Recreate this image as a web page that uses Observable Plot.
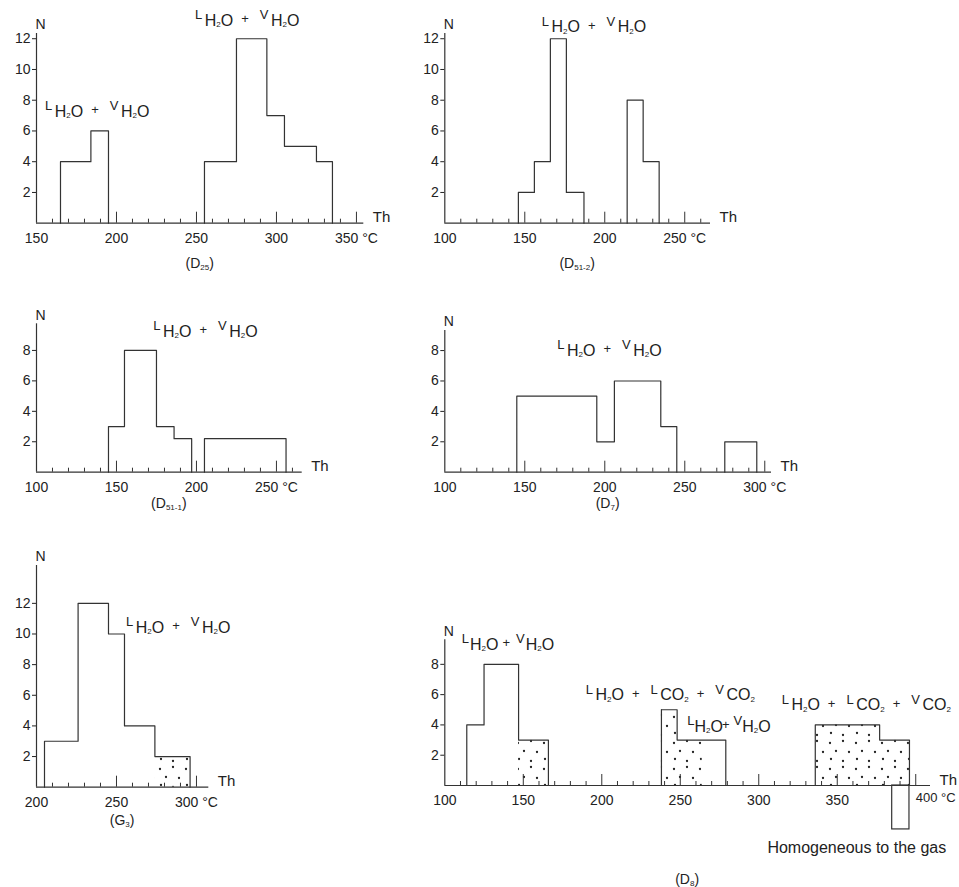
<!DOCTYPE html>
<html>
<head>
<meta charset="utf-8">
<script src="https://cdn.jsdelivr.net/npm/d3@7"></script>
<script src="https://cdn.jsdelivr.net/npm/@observablehq/plot@0.6"></script>
<style>
  body { margin: 0; background: #fff; }
  #chart { position: relative; width: 959px; height: 887px; overflow: hidden; background: #fff; }
</style>
</head>
<body>
<svg width="0" height="0" style="position:absolute">
  <defs>
    <pattern id="stipple" patternUnits="userSpaceOnUse" width="26" height="26">
      <circle cx="4" cy="5" r="1.15" fill="#222"/>
      <circle cx="17" cy="3" r="1.15" fill="#222"/>
      <circle cx="10" cy="13" r="1.15" fill="#222"/>
      <circle cx="23" cy="14" r="1.15" fill="#222"/>
      <circle cx="5" cy="21" r="1.15" fill="#222"/>
      <circle cx="17" cy="23" r="1.15" fill="#222"/>
    </pattern>
  </defs>
</svg>
<div id="chart"></div>
<script>
const FONT = '"Liberation Sans", Arial, Helvetica, sans-serif';
const INK = "#333";

// ---------------- DATA ----------------
// (D25)
const d25Lo = [165, 184, 255, 275, 294, 305, 325];
const d25Hi = [184, 195, 275, 294, 305, 325, 335];
const d25N = [4, 6, 4, 12, 7, 5, 4];
const d25Type = ["aq", "aq", "aq", "aq", "aq", "aq", "aq"];
const d25XTicks = [150, 200, 250, 300, 350];
const d25YTicks = [2, 4, 6, 8, 10, 12];

// (D51-2)
const d512Lo = [146, 156, 166, 176, 214, 224];
const d512Hi = [156, 166, 176, 187, 224, 234];
const d512N = [2, 4, 12, 2, 8, 4];
const d512Type = ["aq", "aq", "aq", "aq", "aq", "aq"];
const d512XTicks = [100, 150, 200, 250];
const d512YTicks = [2, 4, 6, 8, 10, 12];

// (D51-1)
const d511Lo = [145, 155, 175, 186, 205];
const d511Hi = [155, 175, 186, 197, 256];
const d511N = [3, 8, 3, 2.2, 2.2];
const d511Type = ["aq", "aq", "aq", "aq", "aq"];
const d511XTicks = [100, 150, 200, 250];
const d511YTicks = [2, 4, 6, 8];

// (D7)
const d7Lo = [145, 195, 206, 235, 275];
const d7Hi = [195, 206, 235, 245, 295];
const d7N = [5, 2, 6, 3, 2];
const d7Type = ["aq", "aq", "aq", "aq", "aq"];
const d7XTicks = [100, 150, 200, 250, 300];
const d7YTicks = [2, 4, 6, 8];

// (G3)
const g3Lo = [205, 226, 245, 255, 274];
const g3Hi = [226, 245, 255, 274, 296];
const g3N = [3, 12, 10, 4, 2];
const g3Type = ["aq", "aq", "aq", "aq", "co2"];
const g3XTicks = [200, 250, 300];
const g3YTicks = [2, 4, 6, 8, 10, 12];

// (D8)
const d8Lo = [114, 125, 147, 238, 248, 264, 336, 377];
const d8Hi = [125, 147, 166, 248, 264, 279, 377, 396];
const d8N = [4, 8, 3, 5, 3, 3, 4, 3];
const d8Type = ["aq", "aq", "co2", "co2", "co2", "aq", "co2", "co2"];
const d8GasLo = [385];
const d8GasHi = [396];
const d8GasN = [-2.9];
const d8XTicks = [100, 150, 200, 250, 300, 350, 400];
const d8YTicks = [2, 4, 6, 8];

// phase labels (data coordinates)
const AQ = ["L:H2O", "+", "V:H2O"];
const CO2 = ["L:H2O", "+", "L:CO2", "+", "V:CO2"];
const d25Notes = [{x: 155.6, y: 6.9, f: AQ, sp: "normal"}, {x: 249.4, y: 12.8, f: AQ, sp: "normal"}];
const d512Notes = [{x: 160.9, y: 12.39, f: AQ, sp: "normal"}];
const d511Notes = [{x: 173.3, y: 8.87, f: AQ, sp: "normal"}];
const d7Notes = [{x: 170.6, y: 7.61, f: AQ, sp: "normal"}];
const g3Notes = [{x: 256.3, y: 10.05, f: AQ, sp: "normal"}];
const d8Notes = [
  {x: 111.1, y: 8.92, f: AQ, sp: "tight"},
  {x: 190.1, y: 5.61, f: CO2, sp: "normal"},
  {x: 254.8, y: 3.52, f: AQ, sp: "tighter"},
  {x: 314.9, y: 4.95, f: CO2, sp: "normal"}
];
const d8Extra = [{x: 305.5, y: -4.1, text: "Homogeneous to the gas"}];

// ---------------- HELPERS ----------------
const SPACING = {
  normal: {g0: 2.5, g1: 8, g2: 11},
  tight: {g0: 1, g1: 4, g2: 6},
  tighter: {g0: 0, g1: -1, g2: 4}
};

function chemSegs(tokens, spName) {
  const sp = SPACING[spName];
  const segs = [];
  tokens.forEach((tok, i) => {
    if (tok === "+") { segs.push({t: "+", size: 13, off: -2.5, dx: sp.g1}); return; }
    const [m, f] = tok.split(":");
    segs.push({t: m, size: 13, off: -6.5, dx: i === 0 ? 0 : sp.g2});
    [...f].forEach((c, j) => {
      const dig = /[0-9]/.test(c);
      segs.push({t: c, size: dig ? 8 : 16, off: dig ? 1.5 : 0, dx: j === 0 ? sp.g0 : 0});
    });
  });
  return segs;
}

function captionSegs(main, sub) {
  return [
    {t: "(" + main, size: 14, off: 0, dx: 0},
    {t: sub, size: 8, off: 2, dx: 0},
    {t: ")", size: 14, off: 0, dx: 0}
  ];
}

function drawRich(svg, px, py, segs, anchor) {
  const t = d3.select(svg).append("text")
    .attr("x", px).attr("y", py)
    .attr("text-anchor", anchor)
    .attr("fill", "#222")
    .attr("font-family", FONT);
  let cur = 0;
  for (const s of segs) {
    t.append("tspan")
      .attr("font-size", s.size)
      .attr("dy", s.off - cur)
      .attr("dx", s.dx || 0)
      .text(s.t);
    cur = s.off;
  }
}

function outlineOf(bins) {
  const pts = [];
  let g = 0;
  bins.forEach((b, i) => {
    const start = i === 0 || b.lo !== bins[i - 1].hi;
    if (start) {
      if (i > 0) pts.push({x: bins[i - 1].hi, y: 0, g});
      g++;
      pts.push({x: b.lo, y: 0, g});
    }
    pts.push({x: b.lo, y: b.n, g});
  });
  pts.push({x: bins[bins.length - 1].hi, y: 0, g});
  return pts;
}

function makeBins(lo, hi, n, type) {
  return lo.map((l, i) => ({lo: l, hi: hi[i], n: n[i], type: type ? type[i] : "aq"}));
}

// ---------------- PANELS ----------------
const panels = [
  {bins: makeBins(d25Lo, d25Hi, d25N, d25Type), xTicks: d25XTicks, yTicks: d25YTicks, notes: d25Notes,
   xDomain: [150, 354.6], yDomain: [0, 12.34], region: [0, 0, 410, 290],
   frame: {left: 36, right: 363.3, top: 33, bottom: 222.7}, cap: ["D", "25"], capDy: 44.8},
  {bins: makeBins(d512Lo, d512Hi, d512N, d512Type), xTicks: d512XTicks, yTicks: d512YTicks, notes: d512Notes,
   xDomain: [100, 266.1], yDomain: [0, 12.34], region: [410, 0, 549, 290],
   frame: {left: 444.3, right: 710, top: 33, bottom: 222.7}, cap: ["D", "51-2"], capDy: 44.8},
  {bins: makeBins(d511Lo, d511Hi, d511N, d511Type), xTicks: d511XTicks, yTicks: d511YTicks, notes: d511Notes,
   xDomain: [100, 266.1], yDomain: [0, 9.75], region: [0, 290, 410, 240],
   frame: {left: 36, right: 301.7, top: 323.3, bottom: 471.7}, cap: ["D", "51-1"], capDy: 35.8},
  {bins: makeBins(d7Lo, d7Hi, d7N, d7Type), xTicks: d7XTicks, yTicks: d7YTicks, notes: d7Notes,
   xDomain: [100, 304.2], yDomain: [0, 9.32], region: [410, 290, 549, 240],
   frame: {left: 444.3, right: 771, top: 330, bottom: 471.7}, cap: ["D", "7"], capDy: 35.8},
  {bins: makeBins(g3Lo, g3Hi, g3N, g3Type), xTicks: g3XTicks, yTicks: g3YTicks, notes: g3Notes,
   xDomain: [200, 307.7], yDomain: [0, 14.47], region: [0, 530, 410, 357],
   frame: {left: 36, right: 208.3, top: 565, bottom: 786.7}, cap: ["G", "3"], capDy: 38.2},
  {bins: makeBins(d8Lo, d8Hi, d8N, d8Type), xTicks: d8XTicks, yTicks: d8YTicks, notes: d8Notes,
   gas: makeBins(d8GasLo, d8GasHi, d8GasN), extra: d8Extra, lastLabelStart: true,
   xDomain: [100, 409.4], yDomain: [0, 9.62], region: [410, 530, 549, 357],
   frame: {left: 444.3, right: 930, top: 639.3, bottom: 785}, cap: ["D", "8"], capDy: 98.5}
];

const chart = document.getElementById("chart");
const unit = d => `${d} \u00b0C`;

for (const cfg of panels) {
  const [rx, ry, rw, rh] = cfg.region;
  const f = cfg.frame;
  const frameH = f.bottom - f.top;
  const x0 = cfg.xDomain[0];
  const lastTick = cfg.xTicks[cfg.xTicks.length - 1];
  const axisTicks = cfg.lastLabelStart ? cfg.xTicks.slice(0, -1) : cfg.xTicks;
  const grid = d3.range(x0 + 10, cfg.xDomain[1] + 1e-9, 10);
  const major = grid.filter(v => v % 50 === 0);
  const minor = grid.filter(v => v % 50 !== 0);

  const marks = [
    Plot.rect(cfg.bins.filter(b => b.type === "co2"), {x1: "lo", x2: "hi", y1: 0, y2: "n", fill: "url(#stipple)"}),
    cfg.gas ? Plot.rect(cfg.gas, {x1: "lo", x2: "hi", y1: 0, y2: "n", fill: "none", stroke: INK, strokeWidth: 1.2}) : null,
    Plot.line(outlineOf(cfg.bins), {x: "x", y: "y", z: "g", curve: "step-after", stroke: INK, strokeWidth: 1.2}),
    Plot.ruleY([0], {stroke: INK, strokeWidth: 1.2}),
    Plot.ruleX([x0], {stroke: INK, strokeWidth: 1.2}),
    Plot.tickX(minor, {x: d => d, insetTop: frameH - 4, stroke: INK, strokeWidth: 1}),
    Plot.tickX(major, {x: d => d, insetTop: frameH - 11, stroke: INK, strokeWidth: 1}),
    Plot.text(["N"], {frameAnchor: "top-left", dy: -14, dx: -1, text: d => d, fontSize: 14}),
    Plot.text(["Th"], {frameAnchor: "bottom-right", textAnchor: "start", dx: 9, dy: -1, text: d => d, fontSize: 15}),
    cfg.lastLabelStart ? Plot.text([lastTick], {x: d => d, frameAnchor: "bottom", textAnchor: "start", dx: 0, dy: 16, text: unit, fontSize: 13}) : null,
    cfg.extra ? Plot.text(cfg.extra, {x: "x", y: "y", text: "text", textAnchor: "start", fontSize: 16}) : null
  ].filter(Boolean);

  const svg = Plot.plot({
    width: rw,
    height: rh,
    marginLeft: f.left - rx,
    marginRight: rx + rw - f.right,
    marginTop: f.top - ry,
    marginBottom: ry + rh - f.bottom,
    style: {background: "transparent", fontFamily: FONT, fontSize: "14px", color: "#222"},
    x: {domain: cfg.xDomain, ticks: axisTicks, tickSize: 0, tickPadding: 10,
        tickFormat: d => d === lastTick ? unit(d) : `${d}`, label: null},
    y: {domain: cfg.yDomain, ticks: cfg.yTicks, tickSize: 4, tickPadding: 2, label: null},
    marks
  });

  svg.style.position = "absolute";
  svg.style.left = rx + "px";
  svg.style.top = ry + "px";
  chart.appendChild(svg);

  const sx = svg.scale("x"), sy = svg.scale("y");
  for (const a of cfg.notes) {
    drawRich(svg, sx.apply(a.x), sy.apply(a.y), chemSegs(a.f, a.sp), "start");
  }
  const cx = (sx.apply(cfg.xDomain[0]) + sx.apply(cfg.xDomain[1])) / 2;
  drawRich(svg, cx, sy.apply(0) + cfg.capDy, captionSegs(cfg.cap[0], cfg.cap[1]), "middle");
}
</script>
</body>
</html>
